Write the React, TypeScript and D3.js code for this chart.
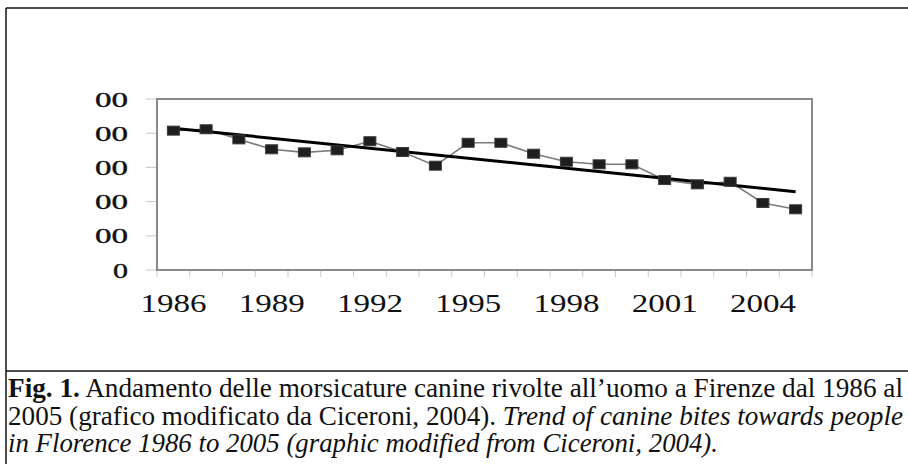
import React, { useEffect, useRef } from "react";
import * as d3 from "d3";

// years shown on the category axis
const years = d3.range(1986, 2006).map(String);
// canine bites per year (y axis labels are cropped)
const bites = [
  815, 823, 764, 706, 688, 700, 753, 690, 610, 744, 744, 680, 633, 618, 618,
  526, 501, 516, 392, 355,
];
const yTicks = [0, 200, 400, 600, 800, 1000];
const yTickLabels = ["0", "00", "00", "00", "00", "00"];
const xLabelYears = ["1986", "1989", "1992", "1995", "1998", "2001", "2004"];

const captionLine1Bold = "Fig. 1.";
const captionLine1 = " Andamento delle morsicature canine rivolte all’uomo a Firenze dal 1986 al";
const captionLine2 = "2005 (grafico modificato da Ciceroni, 2004). ";
const captionLine2Italic = "Trend of canine bites towards people";
const captionLine3Italic = "in Florence 1986 to 2005 (graphic modified from Ciceroni, 2004).";

const W = 908;
const H = 464;
const plot = { left: 157, right: 812, top: 99, bottom: 270 };
const FONT = "Liberation Serif, Times New Roman, serif";

const App: React.FC = () => {
  const svgRef = useRef<SVGSVGElement>(null);

  useEffect(() => {
    if (!svgRef.current) return;
    const svg = d3.select(svgRef.current);
    svg.selectAll("*").remove();

    const x = d3
      .scaleBand<string>()
      .domain(years)
      .range([plot.left, plot.right])
      .padding(0);
    const y = d3.scaleLinear().domain([0, 1000]).range([plot.bottom, plot.top]);
    const cx = (yr: string) => (x(yr) as number) + x.bandwidth() / 2;

    // outer figure frame
    const frame = svg.append("g").attr("stroke", "#111").attr("stroke-width", 1.5);
    frame.append("line").attr("x1", 6).attr("x2", W).attr("y1", 8).attr("y2", 8);
    frame.append("line").attr("x1", 6).attr("x2", 6).attr("y1", 8).attr("y2", H);
    frame.append("line").attr("x1", 6).attr("x2", W).attr("y1", 371).attr("y2", 371);

    // y ticks
    svg
      .append("g")
      .selectAll("line")
      .data(yTicks)
      .join("line")
      .attr("x1", plot.left - 11)
      .attr("x2", plot.left)
      .attr("y1", (d) => y(d))
      .attr("y2", (d) => y(d))
      .attr("stroke", "#c8c8c8")
      .attr("stroke-width", 1);

    svg
      .append("g")
      .selectAll("text")
      .data(yTicks)
      .join("text")
      .attr("x", 128)
      .attr("y", (d) => y(d) + 7.5)
      .attr("text-anchor", "end")
      .style("font-family", FONT)
      .style("font-size", "22px")
      .attr("textLength", (_, i) => (yTickLabels[i].length === 1 ? 15 : 33))
      .attr("lengthAdjust", "spacingAndGlyphs")
      .attr("fill", "#111")
      .attr("stroke", "#111")
      .attr("stroke-width", 0.4)
      .text((_, i) => yTickLabels[i]);

    // x ticks at category boundaries
    const bounds = [...years.map((yr) => x(yr) as number), plot.right];
    svg
      .append("g")
      .selectAll("line")
      .data(bounds)
      .join("line")
      .attr("x1", (d) => d)
      .attr("x2", (d) => d)
      .attr("y1", plot.bottom)
      .attr("y2", plot.bottom + 7)
      .attr("stroke", "#c8c8c8")
      .attr("stroke-width", 1);

    svg
      .append("g")
      .selectAll("text")
      .data(xLabelYears)
      .join("text")
      .attr("x", (d) => cx(d))
      .attr("y", 312)
      .attr("text-anchor", "middle")
      .style("font-family", FONT)
      .style("font-size", "26px")
      .attr("textLength", 66)
      .attr("lengthAdjust", "spacingAndGlyphs")
      .attr("fill", "#111")
      .text((d) => d);

    // plot frame
    svg
      .append("rect")
      .attr("x", plot.left)
      .attr("y", plot.top)
      .attr("width", plot.right - plot.left)
      .attr("height", plot.bottom - plot.top)
      .attr("fill", "none")
      .attr("stroke", "#8a8a8a")
      .attr("stroke-width", 2);

    // data line
    const pts = years.map((yr, i) => [cx(yr), y(bites[i])] as [number, number]);
    svg
      .append("path")
      .datum(pts)
      .attr("fill", "none")
      .attr("stroke", "#7a7a7a")
      .attr("stroke-width", 1.6)
      .attr("d", d3.line());

    // linear trend (least squares)
    const idx = years.map((_, i) => i);
    const mx = d3.mean(idx) as number;
    const my = d3.mean(bites) as number;
    const slope =
      d3.sum(idx, (i) => (i - mx) * (bites[i] - my)) /
      d3.sum(idx, (i) => (i - mx) ** 2);
    const icpt = my - slope * mx;
    const trend = [0, years.length - 1].map(
      (i) => [cx(years[i]), y(icpt + slope * i)] as [number, number]
    );
    svg
      .append("path")
      .datum(trend)
      .attr("fill", "none")
      .attr("stroke", "#000")
      .attr("stroke-width", 3)
      .attr("d", d3.line());

    // markers
    svg
      .append("g")
      .selectAll("rect")
      .data(pts)
      .join("rect")
      .attr("x", (d) => d[0] - 6)
      .attr("y", (d) => d[1] - 4.5)
      .attr("width", 12)
      .attr("height", 9)
      .attr("fill", "#1e1e1e")
      .attr("stroke", "#3a3a3a")
      .attr("stroke-width", 1);

    // caption
    const cap = svg
      .append("g")
      .style("font-family", FONT)
      .style("font-size", "27px")
      .attr("fill", "#111");
    const l1 = cap
      .append("text")
      .attr("x", 8)
      .attr("y", 397)
      .attr("textLength", 895)
      .attr("lengthAdjust", "spacingAndGlyphs");
    l1.append("tspan").attr("font-weight", "bold").text(captionLine1Bold);
    l1.append("tspan").text(captionLine1);
    const l2 = cap
      .append("text")
      .attr("x", 8)
      .attr("y", 425)
      .attr("textLength", 895)
      .attr("lengthAdjust", "spacingAndGlyphs");
    l2.append("tspan").text(captionLine2);
    l2.append("tspan").attr("font-style", "italic").text(captionLine2Italic);
    cap
      .append("text")
      .attr("x", 8)
      .attr("y", 452)
      .attr("textLength", 710)
      .attr("lengthAdjust", "spacingAndGlyphs")
      .attr("font-style", "italic")
      .text(captionLine3Italic);
  }, []);

  return (
    <svg
      ref={svgRef}
      width={W}
      height={H}
      style={{ position: "absolute", left: 0, top: 0, background: "#fff" }}
    />
  );
};

export default App;
